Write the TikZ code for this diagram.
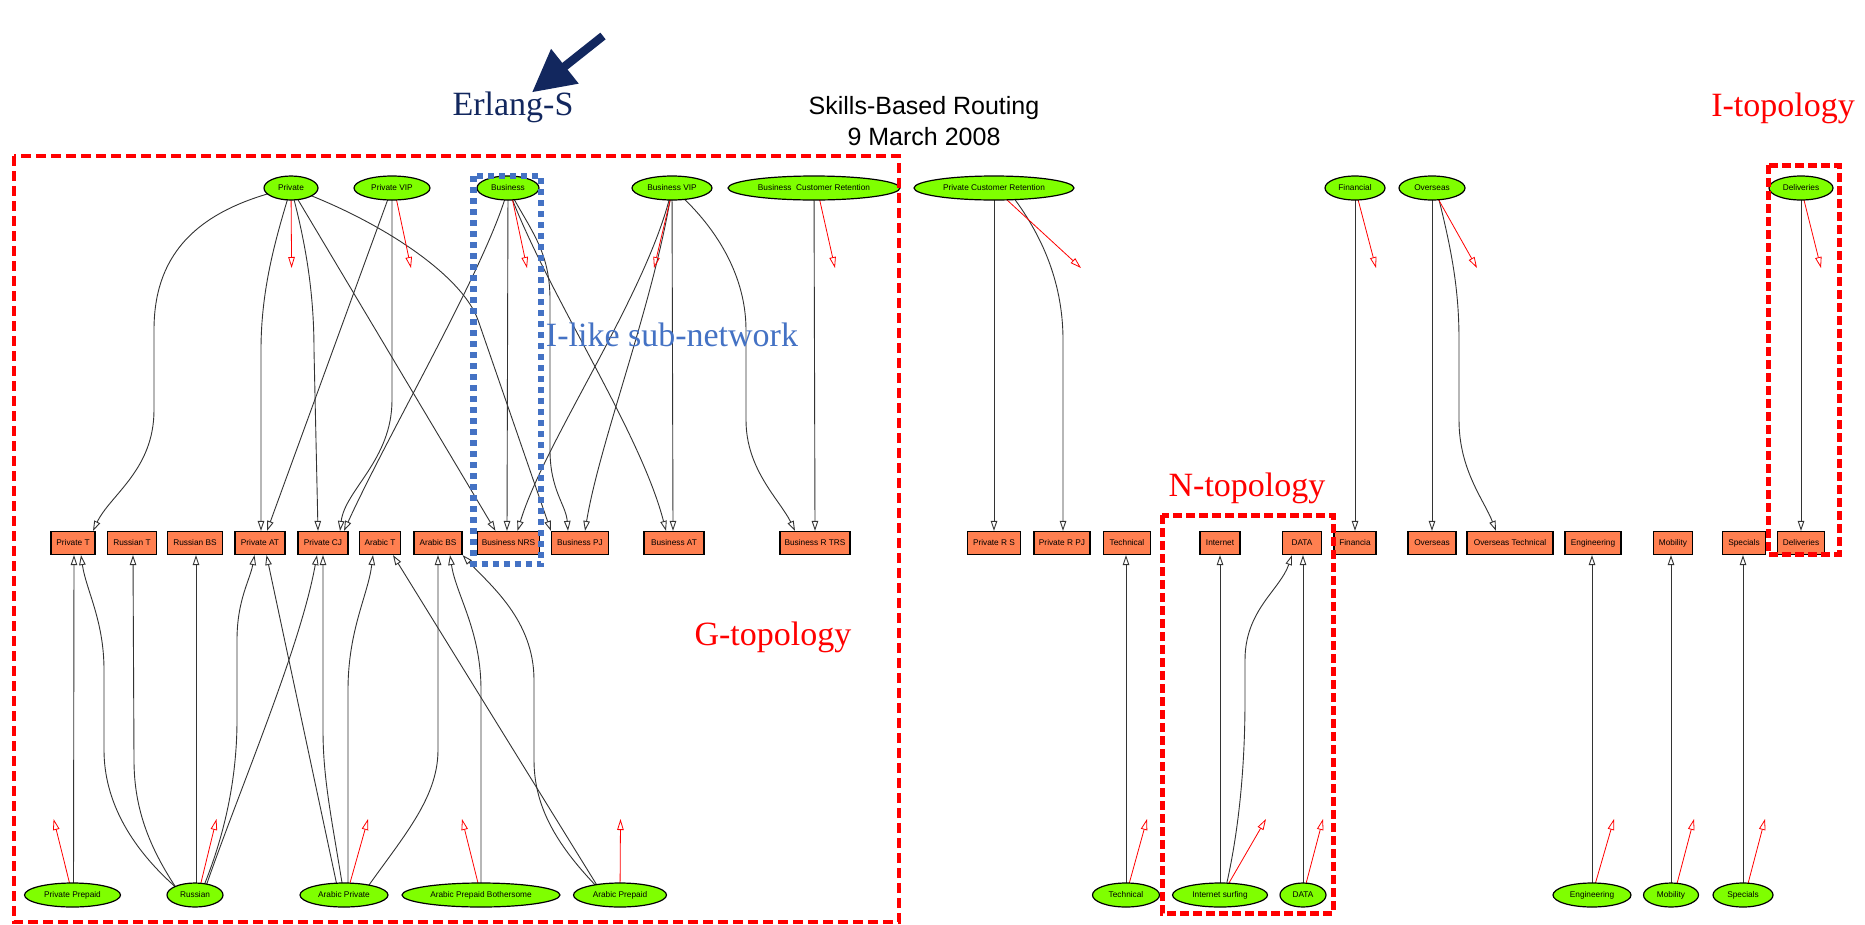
\documentclass[tikz,border=0pt]{standalone}
\usepackage{fontspec}
\setmainfont{Liberation Serif}
\setsansfont{Liberation Sans}
\usetikzlibrary{arrows.meta,shapes.geometric,calc}
\pgfdeclarelayer{canvas}
\pgfdeclarelayer{links}
\pgfsetlayers{canvas,links,main}

\definecolor{queuegreen}{HTML}{7FFF00}
\definecolor{poolcoral}{HTML}{FF7F50}
\definecolor{pointernavy}{HTML}{12275E}
\definecolor{netblue}{HTML}{4472C4}

\tikzset{
  stream/.style={ellipse, draw=black, line width=1.2pt, fill=queuegreen, inner sep=0pt,
    minimum height=24pt, font=\sffamily\fontsize{8.3}{10}\selectfont},
  pool/.style={rectangle, draw=black, line width=1.2pt, fill=poolcoral, inner sep=0pt,
    minimum height=23pt, font=\sffamily\fontsize{8.3}{10}\selectfont},
  route/.style={draw=black!80, line width=0.9pt, -{Triangle[open,length=10pt,width=6.5pt]}},
  abandon/.style={draw=red, line width=0.8pt, -{Triangle[open,length=11pt,width=6.5pt]}},
  zone/.style={draw=red, line width=3.5pt, dash pattern=on 10pt off 5pt},
  tightzone/.style={draw=red, line width=5pt, dash pattern=on 9pt off 4pt},
  subnet/.style={draw=netblue, line width=6.5pt, dash pattern=on 6pt off 5pt},
  tag/.style={inner sep=0pt, font=\fontsize{34}{40}\selectfont}
}

\begin{document}
\begin{tikzpicture}[x=1pt,y=-1pt]
\begin{pgfonlayer}{canvas}
  \fill[white] (0,0) rectangle (1865,924);
\end{pgfonlayer}
\useasboundingbox (0,0) rectangle (1865,924);

% ---- customer classes (top row)
\node[stream, minimum width=54pt]  (sPriv) at (291,188)  {Private};
\node[stream, minimum width=76pt]  (sPVIP) at (392,188)  {Private VIP};
\node[stream, minimum width=62pt]  (sBus)  at (508,188)  {Business};
\node[stream, minimum width=80pt]  (sBVIP) at (672,188)  {Business VIP};
\node[stream, minimum width=172pt] (sBCR)  at (814,188)  {Business~~Customer Retention};
\node[stream, minimum width=160pt] (sPCR)  at (994,188)  {Private Customer Retention};
\node[stream, minimum width=60pt]  (sFin)  at (1355,188) {Financial};
\node[stream, minimum width=66pt]  (sOvs)  at (1432,188) {Overseas};
\node[stream, minimum width=64pt]  (sDel)  at (1801,188) {Deliveries};

% ---- agent pools (middle row)
\node[pool, minimum width=44pt] (pPT)    at (73,543)   {Private T};
\node[pool, minimum width=49pt] (pRT)    at (132,543)  {Russian T};
\node[pool, minimum width=55pt] (pRBS)   at (195,543)  {Russian BS};
\node[pool, minimum width=50pt] (pPAT)   at (260,543)  {Private AT};
\node[pool, minimum width=50pt] (pPCJ)   at (323,543)  {Private CJ};
\node[pool, minimum width=41pt] (pAT)    at (380,543)  {Arabic T};
\node[pool, minimum width=48pt] (pABS)   at (438,543)  {Arabic BS};
\node[pool, minimum width=62pt] (pBNRS)  at (508.5,543){Business NRS};
\node[pool, minimum width=57pt] (pBPJ)   at (580,543)  {Business PJ};
\node[pool, minimum width=60pt] (pBAT)   at (674,543)  {Business AT};
\node[pool, minimum width=70pt] (pBRTRS) at (815,543)  {Business R TRS};
\node[pool, minimum width=53pt] (pPRS)   at (994,543)  {Private R S};
\node[pool, minimum width=56pt] (pPRPJ)  at (1062,543) {Private R PJ};
\node[pool, minimum width=47pt] (pTech)  at (1127,543) {Technical};
\node[pool, minimum width=40pt] (pInet)  at (1220,543) {Internet};
\node[pool, minimum width=39pt] (pData)  at (1302,543) {DATA};
\node[pool, minimum width=42pt] (pFin)   at (1355,543) {Financia};
\node[pool, minimum width=48pt] (pOvs)   at (1432,543) {Overseas};
\node[pool, minimum width=86pt] (pOvsT)  at (1510,543) {Overseas Technical};
\node[pool, minimum width=56pt] (pEng)   at (1593,543) {Engineering};
\node[pool, minimum width=39pt] (pMob)   at (1673,543) {Mobility};
\node[pool, minimum width=43pt] (pSpec)  at (1744,543) {Specials};
\node[pool, minimum width=47pt] (pDel)   at (1801,543) {Deliveries};

% ---- customer classes (bottom row)
\node[stream, minimum width=96pt]  (cPP)   at (72.5,895) {Private Prepaid};
\node[stream, minimum width=56pt]  (cRus)  at (195,895)  {Russian};
\node[stream, minimum width=88pt]  (cAP)   at (344,895)  {Arabic Private};
\node[stream, minimum width=158pt] (cAPB)  at (481,895)  {Arabic Prepaid Bothersome};
\node[stream, minimum width=93pt]  (cApr)  at (620,895)  {Arabic Prepaid};
\node[stream, minimum width=67pt]  (cTech) at (1126,895) {Technical};
\node[stream, minimum width=95pt]  (cInet) at (1220,895) {Internet surfing};
\node[stream, minimum width=46pt]  (cData) at (1303,895) {DATA};
\node[stream, minimum width=78pt]  (cEng)  at (1592,895) {Engineering};
\node[stream, minimum width=55pt]  (cMob)  at (1671,895) {Mobility};
\node[stream, minimum width=60pt]  (cSpec) at (1743,895) {Specials};

% ---- abandonment end points
\coordinate (xPriv) at (291.6,268);
\coordinate (xPVIP) at (411,268);
\coordinate (xBus)  at (527,268);
\coordinate (xBVIP) at (654,268);
\coordinate (xBCR)  at (835,268);
\coordinate (xPCR)  at (1081,268);
\coordinate (xFin)  at (1376,268);
\coordinate (xOvs)  at (1477,268);
\coordinate (xDel)  at (1821,268);
\coordinate (yPP)   at (53.6,819);
\coordinate (yRus)  at (216.5,819);
\coordinate (yAP)   at (368,819);
\coordinate (yAPB)  at (462,819);
\coordinate (yApr)  at (620.5,819);
\coordinate (yTech) at (1147,819);
\coordinate (yInet) at (1266,819);
\coordinate (yData) at (1323,819);
\coordinate (yEng)  at (1614,819);
\coordinate (yMob)  at (1694,819);
\coordinate (ySpec) at (1765,819);

\begin{pgfonlayer}{links}
% routing from the top classes
\draw[route] (sPriv.center) .. controls (190,210) and (154,260) .. (154,330) -- (154,410)
  .. controls (154,470) and (110,495) .. ([xshift=20pt]pPT.north);
\draw[route] (sPriv.center) .. controls (275,240) and (261,290) .. (261,350) -- ([xshift=1pt]pPAT.north);
\draw[route] (sPriv.center) .. controls (305,240) and (314,290) .. (314,350) -- ([xshift=-5pt]pPCJ.north);
\draw[route] (sPriv.center) -- ([xshift=-13pt]pBNRS.north);
\draw[route] (sPriv.center) .. controls (380,220) and (462,275) .. (478,320) -- (pBPJ.north west);

\draw[route] (sPVIP.center) -- (392,400) .. controls (392,460) and (345,490) .. ([xshift=17pt]pPCJ.north);
\draw[route] (sPVIP.center) -- ([xshift=7pt]pPAT.north);

\draw[route] (sBus.center) .. controls (490,260) and (390,430) .. ([xshift=21pt]pPCJ.north);
\draw[route] (sBus.center) -- ([xshift=-1.5pt]pBNRS.north);
\draw[route] (sBus.center) .. controls (530,230) and (550,250) .. (550,300) -- (550,450)
  .. controls (550,490) and (566,505) .. ([xshift=-12pt]pBPJ.north);
\draw[route] (sBus.center) .. controls (545,290) and (640,430) .. ([xshift=-8pt]pBAT.north);

\draw[route] (sBVIP.center) .. controls (650,290) and (545,440) .. ([xshift=9pt]pBNRS.north);
\draw[route] (sBVIP.center) .. controls (655,300) and (600,440) .. ([xshift=5pt]pBPJ.north);
\draw[route] (sBVIP.center) -- ([xshift=-1pt]pBAT.north);
\draw[route] (sBVIP.center) .. controls (710,220) and (746,270) .. (746,330) -- (746,420)
  .. controls (746,470) and (780,500) .. ([xshift=-20pt]pBRTRS.north);

\draw[route] (sBCR.center) -- (pBRTRS.north);

\draw[route] (sPCR.center) -- (pPRS.north);
\draw[route] ([xshift=12pt]sPCR.center) .. controls (1040,230) and (1063,280) .. (1063,340) -- ([xshift=1pt]pPRPJ.north);

\draw[route] (sFin.center) -- (pFin.north);
\draw[route] (sOvs.center) -- (pOvs.north);
\draw[route] ([xshift=4pt]sOvs.center) .. controls (1452,250) and (1459,290) .. (1459,340) -- (1459,420)
  .. controls (1459,470) and (1484,500) .. ([xshift=-14pt]pOvsT.north);
\draw[route] (sDel.center) -- (pDel.north);

% routing from the bottom classes
\draw[route] ([xshift=1pt]cPP.center) -- ([xshift=1pt]pPT.south);
\draw[route] ([xshift=-10pt]cRus.center) .. controls (130,850) and (104,800) .. (104,750) -- (104,670)
  .. controls (104,620) and (86,590) .. ([xshift=8pt]pPT.south);
\draw[route] ([xshift=-14pt]cRus.center) .. controls (150,850) and (134,810) .. (134,760) -- ([xshift=1pt]pRT.south);
\draw[route] ([xshift=1pt]cRus.center) -- ([xshift=1pt]pRBS.south);
\draw[route] ([xshift=5pt]cRus.center) .. controls (228,830) and (237,770) .. (237,720) -- (237,640)
  .. controls (237,600) and (250,580) .. ([xshift=-5.5pt]pPAT.south);
\draw[route] ([xshift=8pt]cRus.center) .. controls (235,800) and (300,650) .. ([xshift=-6pt]pPCJ.south);

\draw[route] ([xshift=-5pt]cAP.center) -- ([xshift=6.5pt]pPAT.south);
\draw[route] (cAP.center) .. controls (332,820) and (323,780) .. (323,730) -- (pPCJ.south);
\draw[route] ([xshift=4pt]cAP.center) .. controls (348,820) and (348,740) .. (348,690)
  .. controls (348,630) and (368,595) .. ([xshift=-7pt]pAT.south);
\draw[route] ([xshift=18pt]cAP.center) .. controls (400,840) and (438,800) .. (438,750) -- (pABS.south);

\draw[route] (cAPB.center) -- (481,690) .. controls (481,630) and (456,595) .. ([xshift=12pt]pABS.south);

\draw[route] ([xshift=-17pt]cApr.center) -- ([xshift=13pt]pAT.south);
\draw[route] ([xshift=-15pt]cApr.center) .. controls (560,850) and (534,810) .. (534,760) -- (534,680)
  .. controls (534,620) and (490,585) .. (pABS.south east);

\draw[route] (cTech.center) -- (cTech.center |- pTech.south);
\draw[route] (cInet.center) -- (pInet.south);
\draw[route] ([xshift=4pt]cInet.center) .. controls (1240,830) and (1245,760) .. (1245,700) -- (1245,660)
  .. controls (1245,610) and (1280,590) .. ([xshift=-10pt]pData.south);
\draw[route] (cData.center) -- (cData.center |- pData.south);
\draw[route] (cEng.center) -- (cEng.center |- pEng.south);
\draw[route] (cMob.center) -- (cMob.center |- pMob.south);
\draw[route] (cSpec.center) -- (cSpec.center |- pSpec.south);

% abandonment
\draw[abandon] (sPriv.center) -- (xPriv);
\draw[abandon] ([xshift=2pt]sPVIP.center) -- (xPVIP);
\draw[abandon] ([xshift=2pt]sBus.center) -- (xBus);
\draw[abandon] ([xshift=1pt]sBVIP.center) -- (xBVIP);
\draw[abandon] ([xshift=3pt]sBCR.center) -- (xBCR);
\draw[abandon] (sPCR.center) -- (xPCR);
\draw[abandon] (sFin.center) -- (xFin);
\draw[abandon] (sOvs.center) -- (xOvs);
\draw[abandon] (sDel.center) -- (xDel);
\draw[abandon] (cPP.center) -- (yPP);
\draw[abandon] ([xshift=3pt]cRus.center) -- (yRus);
\draw[abandon] ([xshift=2.6pt]cAP.center) -- (yAP);
\draw[abandon] (cAPB.center) -- (yAPB);
\draw[abandon] (cApr.center) -- (yApr);
\draw[abandon] (cTech.center) -- (yTech);
\draw[abandon] ([xshift=2pt]cInet.center) -- (yInet);
\draw[abandon] (cData.center) -- (yData);
\draw[abandon] (cEng.center) -- (yEng);
\draw[abandon] ([xshift=3pt]cMob.center) -- (yMob);
\draw[abandon] ([xshift=2pt]cSpec.center) -- (ySpec);
\end{pgfonlayer}

% ---- topology frames
\draw[zone] (14,156) rectangle (899,922);
\draw[subnet] (473.5,176) rectangle (541,564);
\draw[tightzone] (1162,515) rectangle (1333,913);
\draw[tightzone] (1768,165) rectangle (1839,554);

% ---- headings and labels
\node[tag, text=pointernavy] (erlang) at (513,107) {Erlang-S};
\coordinate (pointerTail) at (603,36);
\draw[pointernavy, line width=8.5pt, -{Triangle[length=42pt,width=42pt]}] (pointerTail) -- ([xshift=19pt,yshift=-1pt]erlang.north);
\node[font=\sffamily\fontsize{25}{31}\selectfont, align=center, inner sep=0pt] (title) at (924,121)
  {Skills-Based Routing\\9 March 2008};
\node[tag, text=red] (itopo) at (1783,108) {I-topology};
\node[tag, text=netblue] (ilike) at (672,335) {I-like sub-network};
\node[tag, text=red] (ntopo) at (1247,488) {N-topology};
\node[tag, text=red] (gtopo) at (773,637) {G-topology};
\end{tikzpicture}
\end{document}
